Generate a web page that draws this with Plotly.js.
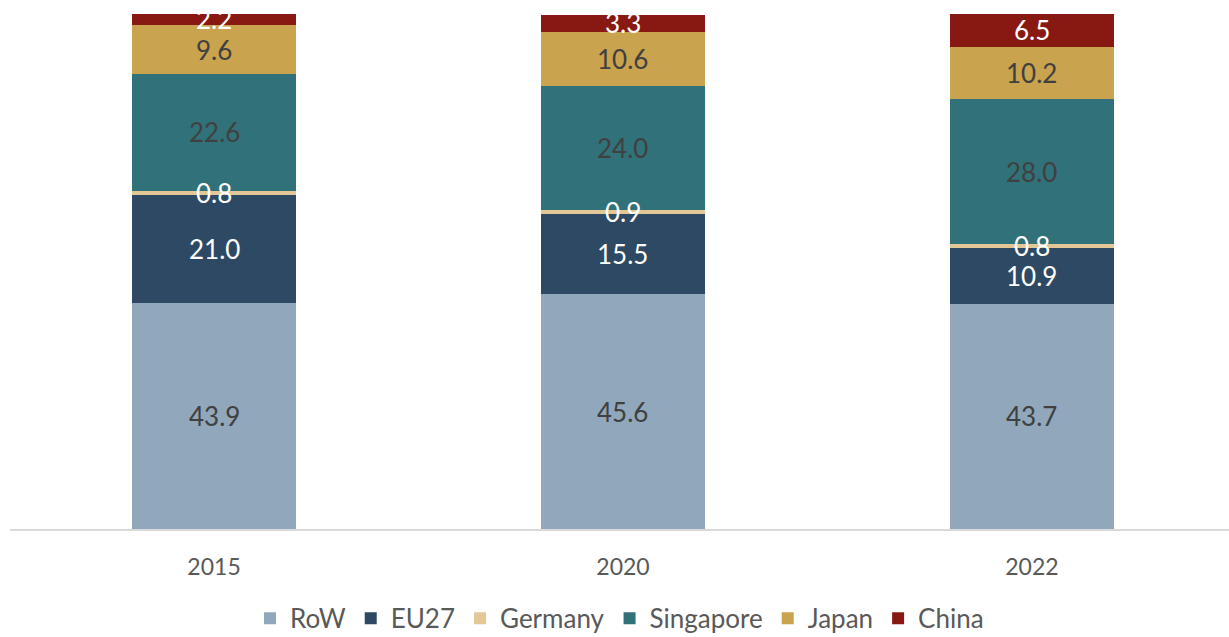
<!DOCTYPE html>
<html><head><meta charset="utf-8">
<script src="https://cdn.plot.ly/plotly-3.0.1.min.js"></script>
<style>html,body{margin:0;padding:0;background:#fff}#chart{width:1229px;height:637px}</style>
</head><body><div id="chart"></div>
<script>
const years = ['2015', '2020', '2022'];
const seriesNames = ['RoW', 'EU27', 'Germany', 'Singapore', 'Japan', 'China'];
const RoW = [43.9, 45.6, 43.7];
const EU27 = [21.0, 15.5, 10.9];
const Germany = [0.8, 0.9, 0.8];
const Singapore = [22.6, 24.0, 28.0];
const Japan = [9.6, 10.6, 10.2];
const China = [2.2, 3.3, 6.5];

const values = [RoW, EU27, Germany, Singapore, Japan, China];
const colors = ['#91A7BB', '#2E4963', '#E3C797', '#31727A', '#C9A34E', '#881812'];
const labelColors = ['#404040', '#ffffff', '#ffffff', '#404040', '#404040', '#ffffff'];
const FONT = 'Lato, "Open Sans", sans-serif';

const traces = seriesNames.map((n, i) => ({
  type: 'bar', name: n, x: years, y: values[i],
  marker: {color: colors[i], line: {width: 0}},
  width: 0.4, hoverinfo: 'skip'
}));

const annotations = [];
years.forEach((yr, j) => {
  let cum = 0;
  values.forEach((arr, i) => {
    const v = arr[j];
    annotations.push({
      x: j, y: cum + v / 2, xref: 'x', yref: 'y',
      text: v.toFixed(1), showarrow: false,
      font: {family: FONT, size: 26, color: labelColors[i]},
      xanchor: 'center', yanchor: 'middle'
    });
    cum += v;
  });
});

const layout = {
  width: 1229, height: 637,
  margin: {l: 10, r: 0, t: 14, b: 108, autoexpand: false},
  barmode: 'stack',
  paper_bgcolor: '#fff', plot_bgcolor: '#fff',
  font: {family: FONT, color: '#595959'},
  xaxis: {type: 'category', range: [-0.499, 2.482], showline: true, linecolor: '#D9D9D9', linewidth: 2,
          ticks: '', ticklabelstandoff: 16, tickfont: {family: FONT, size: 23, color: '#595959'}, showgrid: false, zeroline: false, fixedrange: true},
  yaxis: {range: [0, 100], visible: false, showgrid: false, zeroline: false, fixedrange: true},
  showlegend: true,
  legend: {orientation: 'h', x: 0.5, xanchor: 'center', y: -0.219, yanchor: 'bottom',
           font: {family: FONT, size: 26, color: '#595959'}, traceorder: 'normal', itemwidth: 30},
  annotations: annotations
};

Plotly.newPlot('chart', traces, layout, {displayModeBar: false, staticPlot: true});
</script></body></html>
